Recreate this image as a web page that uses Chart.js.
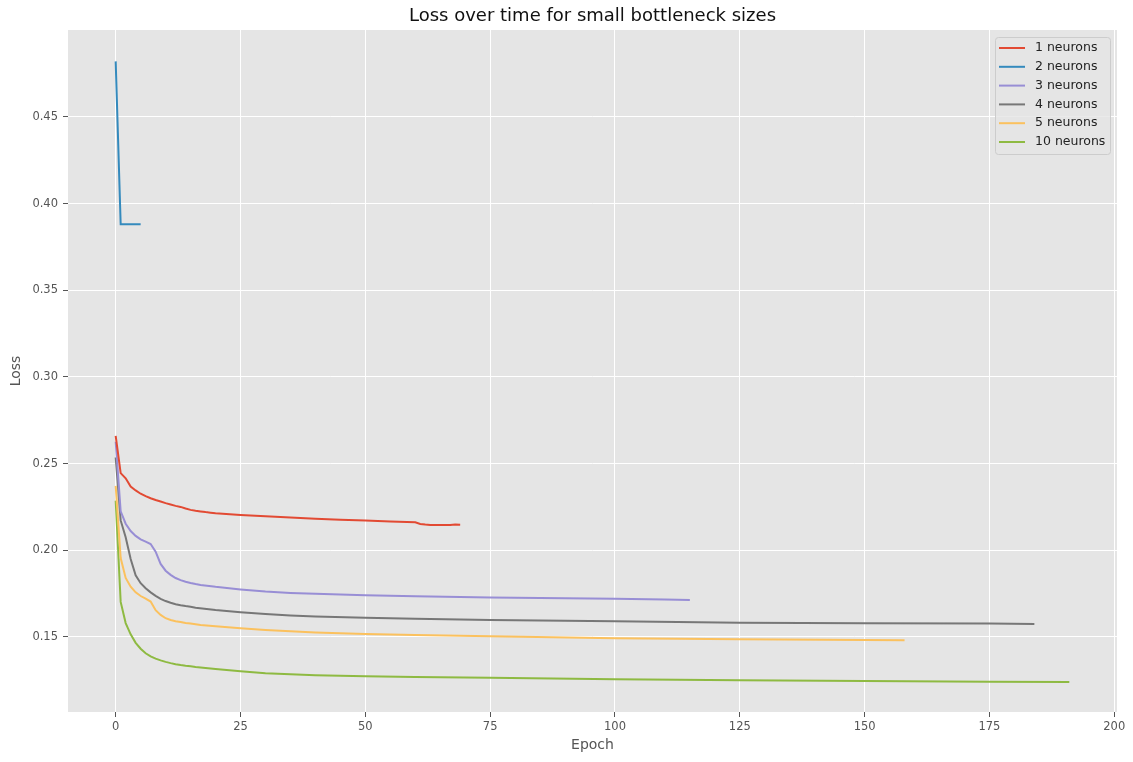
<!DOCTYPE html>
<html>
<head>
<meta charset="utf-8">
<script src="https://cdn.jsdelivr.net/npm/chart.js@4.4.1/dist/chart.umd.min.js"></script>
<style>
  html, body { margin: 0; padding: 0; background: #ffffff; }
  canvas { display: block; }
</style>
</head>
<body>
<canvas id="chart" width="1133" height="762"></canvas>
<script>
// Training loss per epoch for each bottleneck width
const seriesLabels = ['1 neurons', '2 neurons', '3 neurons', '4 neurons', '5 neurons', '10 neurons'];

const epochs1 = [0,1,2,3,4,5,6,7,8,9,10,11,12,13,14,15,16,17,18,19,20,25,30,35,40,45,50,55,60,61,62,63,65,67,68,69];
const loss1 = [0.2660,0.2445,0.2415,0.2368,0.2345,0.2326,0.2312,0.2300,0.2290,0.2281,0.2272,0.2264,0.2256,0.2250,0.2241,0.2233,0.2228,0.2224,0.2220,0.2217,0.2214,0.2204,0.2196,0.2189,0.2182,0.2176,0.2171,0.2166,0.2161,0.2152,0.2148,0.2146,0.2145,0.2146,0.2148,0.2147];

const epochs2 = [0,1,2,3,4,5];
const loss2 = [0.482,0.388,0.388,0.388,0.388,0.388];

const epochs3 = [0,1,2,3,4,5,6,7,8,9,10,11,12,13,14,15,16,17,20,25,30,35,40,45,50,60,75,90,100,110,115];
const loss3 = [0.2626,0.2225,0.2153,0.2111,0.2083,0.2063,0.2050,0.2036,0.1992,0.1921,0.1882,0.1858,0.1840,0.1828,0.1818,0.1811,0.1805,0.1800,0.1789,0.1774,0.1762,0.1754,0.1749,0.1745,0.1741,0.1735,0.1727,0.1723,0.1720,0.1716,0.1713];

const epochs4 = [0,1,2,3,4,5,6,7,8,9,10,11,12,13,14,15,16,20,25,30,35,40,50,60,75,100,125,150,175,184];
const loss4 = [0.2535,0.2172,0.2075,0.1950,0.1855,0.1810,0.1781,0.1757,0.1737,0.1720,0.1707,0.1697,0.1689,0.1683,0.1678,0.1674,0.1669,0.1656,0.1643,0.1632,0.1624,0.1618,0.1611,0.1605,0.1598,0.1590,0.1582,0.1579,0.1577,0.1574];

const epochs5 = [0,1,2,3,4,5,6,7,8,9,10,11,12,13,14,15,16,17,20,25,30,35,40,50,60,75,100,125,150,158];
const loss5 = [0.2371,0.1955,0.1840,0.1790,0.1757,0.1736,0.1721,0.1704,0.1654,0.1627,0.1608,0.1598,0.1591,0.1586,0.1581,0.1577,0.1573,0.1569,0.1562,0.1550,0.1540,0.1533,0.1526,0.1517,0.1511,0.1504,0.1493,0.1486,0.1483,0.1481];

const epochs10 = [0,1,2,3,4,5,6,7,8,9,10,11,12,13,14,15,16,20,25,30,35,40,50,60,75,100,125,150,175,191];
const loss10 = [0.2286,0.1702,0.1580,0.1515,0.1466,0.1432,0.1406,0.1388,0.1375,0.1365,0.1356,0.1349,0.1343,0.1338,0.1334,0.1331,0.1327,0.1315,0.1302,0.1291,0.1285,0.1279,0.1273,0.1269,0.1264,0.1256,0.1250,0.1246,0.1242,0.1240];

const xTickValues = [0, 25, 50, 75, 100, 125, 150, 175, 200];
const yTickValues = [0.15, 0.20, 0.25, 0.30, 0.35, 0.40, 0.45];

// ggplot-style palette
const palette = ['#E24A33', '#348ABD', '#988ED5', '#777777', '#FBC15E', '#8EBA42'];

const allEpochs = [epochs1, epochs2, epochs3, epochs4, epochs5, epochs10];
const allLosses = [loss1, loss2, loss3, loss4, loss5, loss10];

const datasets = seriesLabels.map((label, i) => ({
  label,
  data: allEpochs[i].map((e, j) => ({ x: e, y: allLosses[i][j] })),
  borderColor: palette[i],
  backgroundColor: palette[i],
  borderWidth: 2,
  pointRadius: 0,
  tension: 0,
  fill: false
}));

const FONT = "'DejaVu Sans', 'Liberation Sans', sans-serif";

// grey panel behind the plot area
const panelBackground = {
  id: 'panelBackground',
  beforeDraw(chart) {
    const { ctx, chartArea: a } = chart;
    ctx.save();
    ctx.fillStyle = '#E5E5E5';
    ctx.fillRect(a.left, a.top, a.right - a.left, a.bottom - a.top);
    ctx.restore();
  }
};

// legend drawn inside the upper-right corner of the plot area
const insideLegend = {
  id: 'insideLegend',
  afterDatasetsDraw(chart) {
    const { ctx, chartArea: a } = chart;
    const ds = chart.data.datasets;
    const boxW = 115, rowH = 18.8;
    const boxH = 117;
    const x0 = a.right - 7 - boxW, y0 = a.top + 7;
    ctx.save();
    ctx.beginPath();
    if (ctx.roundRect) ctx.roundRect(x0 + 0.5, y0 + 0.5, boxW, boxH, 3);
    else ctx.rect(x0 + 0.5, y0 + 0.5, boxW, boxH);
    ctx.fillStyle = 'rgba(229,229,229,0.8)';
    ctx.fill();
    ctx.strokeStyle = '#CCCCCC';
    ctx.lineWidth = 1;
    ctx.stroke();
    ctx.font = '12.5px ' + FONT;
    ctx.textBaseline = 'middle';
    ctx.textAlign = 'left';
    ds.forEach((d, i) => {
      const cy = y0 + 11 + i * rowH;
      ctx.strokeStyle = d.borderColor;
      ctx.lineWidth = 2;
      ctx.beginPath();
      ctx.moveTo(x0 + 4, cy);
      ctx.lineTo(x0 + 30, cy);
      ctx.stroke();
      ctx.fillStyle = '#222222';
      ctx.fillText(d.label, x0 + 40, cy);
    });
    ctx.restore();
  }
};

new Chart(document.getElementById('chart'), {
  type: 'line',
  data: { datasets },
  plugins: [panelBackground, insideLegend],
  options: {
    responsive: false,
    animation: false,
    devicePixelRatio: 1,
    layout: { padding: { left: 0, right: 16, top: 0, bottom: 0 } },
    plugins: {
      legend: { display: false },
      tooltip: { enabled: false },
      title: {
        display: true,
        fullSize: false,
        text: 'Loss over time for small bottleneck sizes',
        color: '#111111',
        font: { family: FONT, size: 18, weight: 'normal', lineHeight: 1.2 },
        padding: { top: 6, bottom: 2.4 }
      }
    },
    scales: {
      x: {
        type: 'linear',
        min: -9.55,
        max: 200.55,
        afterBuildTicks(axis) { axis.ticks = xTickValues.map(v => ({ value: v })); },
        afterFit(axis) { axis.height = 50; },
        border: { display: false },
        grid: { color: '#FFFFFF', lineWidth: 1, tickLength: 5, tickColor: '#555555', drawTicks: true },
        ticks: { color: '#555555', font: { family: FONT, size: 11.5 }, padding: 3, maxRotation: 0 },
        title: { display: true, text: 'Epoch', color: '#555555', font: { family: FONT, size: 14 }, padding: { top: 0, bottom: 8 } }
      },
      y: {
        type: 'linear',
        min: 0.1067,
        max: 0.5001,
        afterBuildTicks(axis) { axis.ticks = yTickValues.map(v => ({ value: v })); },
        afterFit(axis) { axis.width = 68; },
        border: { display: false },
        grid: { color: '#FFFFFF', lineWidth: 1, tickLength: 5, tickColor: '#555555', drawTicks: true },
        ticks: { color: '#555555', font: { family: FONT, size: 11.5 }, padding: 5, callback: v => v.toFixed(2) },
        title: { display: true, text: 'Loss', color: '#555555', font: { family: FONT, size: 14 }, padding: { top: 8, bottom: 0 } }
      }
    }
  }
});
</script>
</body>
</html>
